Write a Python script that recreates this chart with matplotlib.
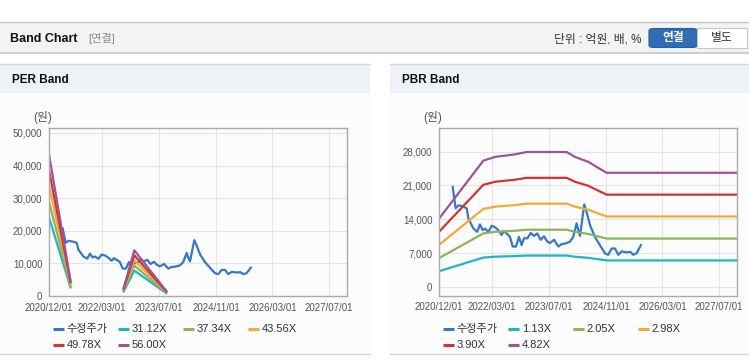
import numpy as np
import pandas as pd
import matplotlib
matplotlib.use('Agg')
import matplotlib.pyplot as plt
from matplotlib.patches import Rectangle, FancyBboxPatch
from matplotlib.lines import Line2D
from matplotlib.ticker import FuncFormatter

plt.rcParams['font.family'] = ['Liberation Sans', 'Noto Sans CJK KR', 'DejaVu Sans']

W, H = 749, 364

# 수정주가 (adjusted price)
price_dates = ['2021-03-26', '2021-04-20', '2021-05-15', '2021-06-19', '2021-07-24', '2021-08-08',
               '2021-09-19', '2021-10-23', '2021-11-15', '2021-12-08', '2021-12-28', '2022-01-26',
               '2022-02-24', '2022-03-24', '2022-04-21', '2022-05-20', '2022-06-09', '2022-07-02',
               '2022-07-31', '2022-08-23', '2022-09-20', '2022-10-16', '2022-11-08', '2022-11-28',
               '2022-12-27', '2023-01-25', '2023-02-22', '2023-03-22', '2023-04-20', '2023-05-19',
               '2023-06-14', '2023-07-09', '2023-08-13', '2023-09-19', '2023-10-17', '2023-11-15',
               '2023-12-28', '2024-01-25', '2024-02-23', '2024-03-08', '2024-03-23', '2024-04-29',
               '2024-05-19', '2024-06-17', '2024-07-29', '2024-09-10', '2024-10-23', '2024-11-21',
               '2024-12-20', '2025-01-17', '2025-02-15', '2025-03-16', '2025-04-27', '2025-05-29',
               '2025-06-23', '2025-07-22', '2025-08-28']
price_vals = [20700, 16300, 16900, 16700, 16300, 14200,
              12150, 11450, 12970, 11800, 12100, 11400,
              12700, 12400, 11800, 10800, 11600, 11100,
              10400, 8400, 8400, 10400, 8700, 10100,
              10100, 11200, 10600, 11100, 9800, 10500,
              9500, 9100, 9800, 8400, 8900, 9000,
              9400, 10400, 13200, 11800, 10600, 17100,
              15500, 12800, 10400, 8700, 7000, 6700,
              8000, 8000, 6700, 7400, 7200, 7300,
              6700, 7000, 8700]

# PER band (EPS base x multiple)
per_dates = ['2020-12-01', '2021-06-01', '2022-03-01', '2022-09-01', '2022-12-01', '2023-09-01']
per_eps = [766, 85, np.nan, 45, 250, 28]
per_mult = [31.12, 37.34, 43.56, 49.78, 56.00]

# PBR band (BPS base x multiple)
pbr_dates = ['2020-12-01', '2021-12-14', '2022-03-24', '2022-09-12', '2022-12-21', '2023-11-30',
             '2024-02-09', '2024-06-02', '2024-08-13', '2024-11-07', '2027-12-01']
pbr_bps = [2950, 5420, 5580, 5690, 5790, 5790, 5580, 5370, 5150, 4900, 4900]
pbr_mult = [1.13, 2.05, 2.98, 3.90, 4.82]

price_color = '#3677c8'
band_colors = ['#22b3c6', '#8db45a', '#f4a836', '#d33330', '#9a5599']

x_ticks = ['2020-12-01', '2022-03-01', '2023-07-01', '2024-11-01', '2026-03-01', '2027-07-01']
x_range = ['2020-12-01', '2027-12-01']


def fx(x):
    return x / W


def fy(y):
    return 1 - y / H


fig = plt.figure(figsize=(W / 100, H / 100), dpi=100)
fig.patch.set_facecolor('white')


def bg(artist):
    artist.set_zorder(-10)
    fig.add_artist(artist)


# top header bar
bg(Rectangle((0, fy(53)), 1, (53 - 22) / H, transform=fig.transFigure,
             facecolor='#f3f3f3', edgecolor='none'))
bg(Line2D([0, 1], [fy(22), fy(22)], transform=fig.transFigure, color='#c4c4c4', lw=1))
bg(Line2D([0, 1], [fy(53), fy(53)], transform=fig.transFigure, color='#cfcfcf', lw=1.5))
fig.text(fx(10), fy(39), 'Band Chart', fontsize=9, fontweight='bold', color='#111', va='center')
fig.text(fx(88), fy(39), '[연결]', fontsize=8, color='#8a8a8a', va='center')
fig.text(fx(642), fy(39), '단위 : 억원, 배, %', fontsize=8.5, color='#333', va='center', ha='right')
bg(FancyBboxPatch((fx(649), fy(47.5)), (697 - 649) / W, 19 / H, transform=fig.transFigure,
                  boxstyle='round,pad=0,rounding_size=0.006', facecolor='#2f6db4',
                  edgecolor='#2a5f9e', lw=0.8))
bg(Rectangle((fx(697), fy(47.5)), (747 - 697) / W, 19 / H, transform=fig.transFigure,
             facecolor='white', edgecolor='#c8c8c8', lw=0.8))
fig.text(fx(673), fy(38.5), '연결', fontsize=8.5, fontweight='bold', color='white', va='center', ha='center')
fig.text(fx(722), fy(38.5), '별도', fontsize=8.5, color='#333', va='center', ha='center')

# panels
for x0, x1, title in [(0, 370, 'PER Band'), (390, 749, 'PBR Band')]:
    bg(Rectangle((fx(x0), fy(354)), (x1 - x0) / W, (354 - 93) / H, transform=fig.transFigure,
                 facecolor='#fcfcfd', edgecolor='none'))
    bg(Rectangle((fx(x0), fy(93)), (x1 - x0) / W, (93 - 64) / H, transform=fig.transFigure,
                 facecolor='#eef2f7', edgecolor='none'))
    bg(Line2D([fx(x0), fx(x1)], [fy(64), fy(64)], transform=fig.transFigure, color='#d6d6d6', lw=1))
    bg(Line2D([fx(x0), fx(x1)], [fy(354), fy(354)], transform=fig.transFigure, color='#d6d6d6', lw=1))
    fig.text(fx(x0 + 12), fy(80), title, fontsize=8.5, fontweight='bold', color='#111', va='center')

pdates = pd.to_datetime(price_dates)
xt = pd.to_datetime(x_ticks)
xr = pd.to_datetime(x_range)


def setup_axes(ax, ylim, yticks):
    ax.set_facecolor('none')
    ax.set_xlim(xr[0], xr[1])
    ax.set_ylim(*ylim)
    ax.set_xticks(xt)
    ax.set_xticklabels([d.strftime('%Y/%m/%d') for d in xt])
    ax.set_yticks(yticks)
    ax.yaxis.set_major_formatter(FuncFormatter(lambda v, p: f'{v:,.0f}'))
    ax.tick_params(length=0, labelsize=7, colors='#555', pad=5)
    ax.grid(True, color='#e4e4e4', lw=0.8)
    ax.set_axisbelow(True)
    for s in ax.spines.values():
        s.set_color('#aaaaaa')
        s.set_linewidth(1)


def draw_legend(x0, labels, colors):
    for i, (lab, col) in enumerate(zip(labels, colors)):
        hx = x0 + (i % 4) * 65
        hy = 329 + (i // 4) * 15.5
        fig.add_artist(Line2D([fx(hx), fx(hx + 11)], [fy(hy), fy(hy)], transform=fig.transFigure,
                              color=col, lw=2.2, solid_capstyle='butt'))
        fig.text(fx(hx + 14), fy(hy), lab, fontsize=8, color='#333', va='center')


# PER chart
ax1 = fig.add_axes([fx(49.3), fy(296), (347 - 49.3) / W, (296 - 128) / H])
setup_axes(ax1, (0, 51500), [0, 10000, 20000, 30000, 40000, 50000])
ax1.plot(pdates, price_vals, color=price_color, lw=1.6)
per_d = pd.to_datetime(per_dates)
for m, c in zip(per_mult, band_colors):
    ax1.plot(per_d, np.array(per_eps) * m, color=c, lw=1.6)
fig.text(fx(43), fy(118), '(원)', fontsize=8.5, color='#555', va='center', ha='center')
draw_legend(52.7, ['수정주가'] + [f'{m:.2f}X' for m in per_mult], [price_color] + band_colors)

# PBR chart
ax2 = fig.add_axes([fx(439.3), fy(295.5), (737 - 439.3) / W, (295.5 - 128.3) / H])
setup_axes(ax2, (-1700, 32800), [0, 7000, 14000, 21000, 28000])
ax2.plot(pdates, price_vals, color=price_color, lw=1.6)
pbr_d = pd.to_datetime(pbr_dates)
for m, c in zip(pbr_mult, band_colors):
    ax2.plot(pbr_d, np.array(pbr_bps) * m, color=c, lw=1.6)
fig.text(fx(433), fy(118), '(원)', fontsize=8.5, color='#555', va='center', ha='center')
draw_legend(442.7, ['수정주가'] + [f'{m:.2f}X' for m in pbr_mult], [price_color] + band_colors)

fig.savefig('out.png', dpi=100)
